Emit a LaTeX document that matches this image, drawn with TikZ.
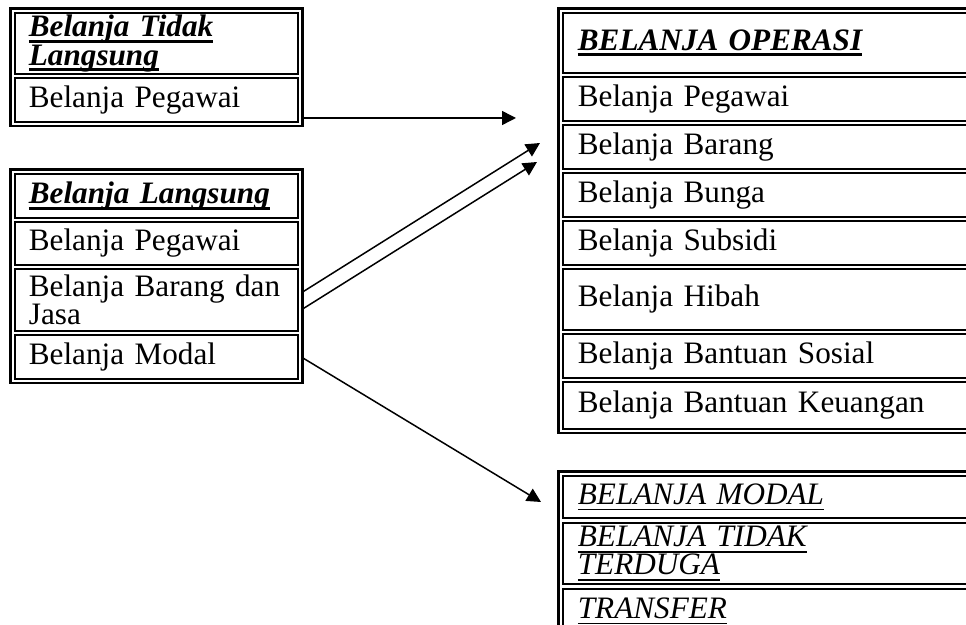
\documentclass[tikz,border=0pt]{standalone}
\usepackage{fontspec}
\setmainfont{Liberation Serif}
\usetikzlibrary{arrows.meta,calc,fit}
\newsavebox{\undlbox}
\newcommand{\undl}[2][.8pt]{\sbox{\undlbox}{#2}\rlap{\rule[-3.2pt]{\wd\undlbox}{#1}}\usebox{\undlbox}}
\newcommand{\judul}[1]{\textbf{\textit{\undl[1.6pt]{#1}}}}
\newcommand{\miring}[1]{\textit{\undl{#1}}}
\tikzset{>={Triangle[length=7pt,width=7pt]},every node/.style={font=\fontsize{15.6pt}{14.2pt}\selectfont},
 cellbox/.style={draw,line width=.9pt,anchor=north west,inner xsep=7pt,inner ysep=0pt,align=left,minimum height=#1},
 cellL/.style={cellbox=#1,text width=127.5pt},cellR/.style={cellbox=#1,text width=204pt,inner xsep=7.5pt},
 tabframe/.style={draw,line width=1.2pt,inner sep=1.75pt},flow/.style={line width=.75pt,->}}
\begin{document}
\begin{tikzpicture}[x=.5pt,y=-.5pt]
\useasboundingbox (0,0) rectangle (966,625);\clip (0,0) rectangle (966,625);
\node[cellL=30.5pt] (tdl1) at (14,12){\judul{Belanja Tidak}\\\judul{Langsung}};\node[cellL=22pt] (tdl2) at (14,77){Belanja Pegawai};
\node[tabframe,fit=(tdl1)(tdl2)] (tdlF){};
\node[cellL=22pt] (bl1) at (14,173){\judul{Belanja Langsung}};\node[cellL=21.5pt] (bl2) at (14,221){Belanja Pegawai};
\node[cellL=31pt] (bl3) at (14,268){\mbox{Belanja Barang dan}\\Jasa};\node[cellL=22pt] (bl4) at (14,334){Belanja Modal};
\node[tabframe,fit=(bl1)(bl4)] (blF){};
\node[cellR=30pt] (op1) at (562,12){\judul{BELANJA OPERASI}};\node[cellR=22pt] (op2) at (562,76){Belanja Pegawai};
\node[cellR=22pt] (op3) at (562,124){Belanja Barang};\node[cellR=22pt] (op4) at (562,172){Belanja Bunga};
\node[cellR=22pt] (op5) at (562,220){Belanja Subsidi};\node[cellR=30.5pt] (op6) at (562,268){Belanja Hibah};
\node[cellR=22pt] (op7) at (562,333){Belanja Bantuan Sosial};\node[cellR=23.5pt] (op8) at (562,381){Belanja Bantuan Keuangan};
\node[tabframe,fit=(op1)(op8)] (opF){};
\node[cellR=21pt] (lain1) at (562,475){\miring{BELANJA MODAL}};\node[cellR=30.5pt] (lain2) at (562,522){\miring{BELANJA TIDAK}\\\miring{TERDUGA}};
\node[cellR=22pt] (lain3) at (562,588){\miring{TRANSFER}};
\node[tabframe,fit=(lain1)(lain3)] (lainF){};
\coordinate (tipA) at (516,118);\coordinate (tipB) at (540,143);\coordinate (tipC) at (537,162);\coordinate (tipD) at (541,502);
\draw[flow] (tdlF.east |- tipA)--(tipA);\draw[flow] ($(bl3.east)+(4,-8)$)--(tipB);
\draw[flow] ($(bl3.east)+(4,9)$)--(tipC);\draw[flow] ($(bl4.east)+(4,1)$)--(tipD);
\end{tikzpicture}
\end{document}
